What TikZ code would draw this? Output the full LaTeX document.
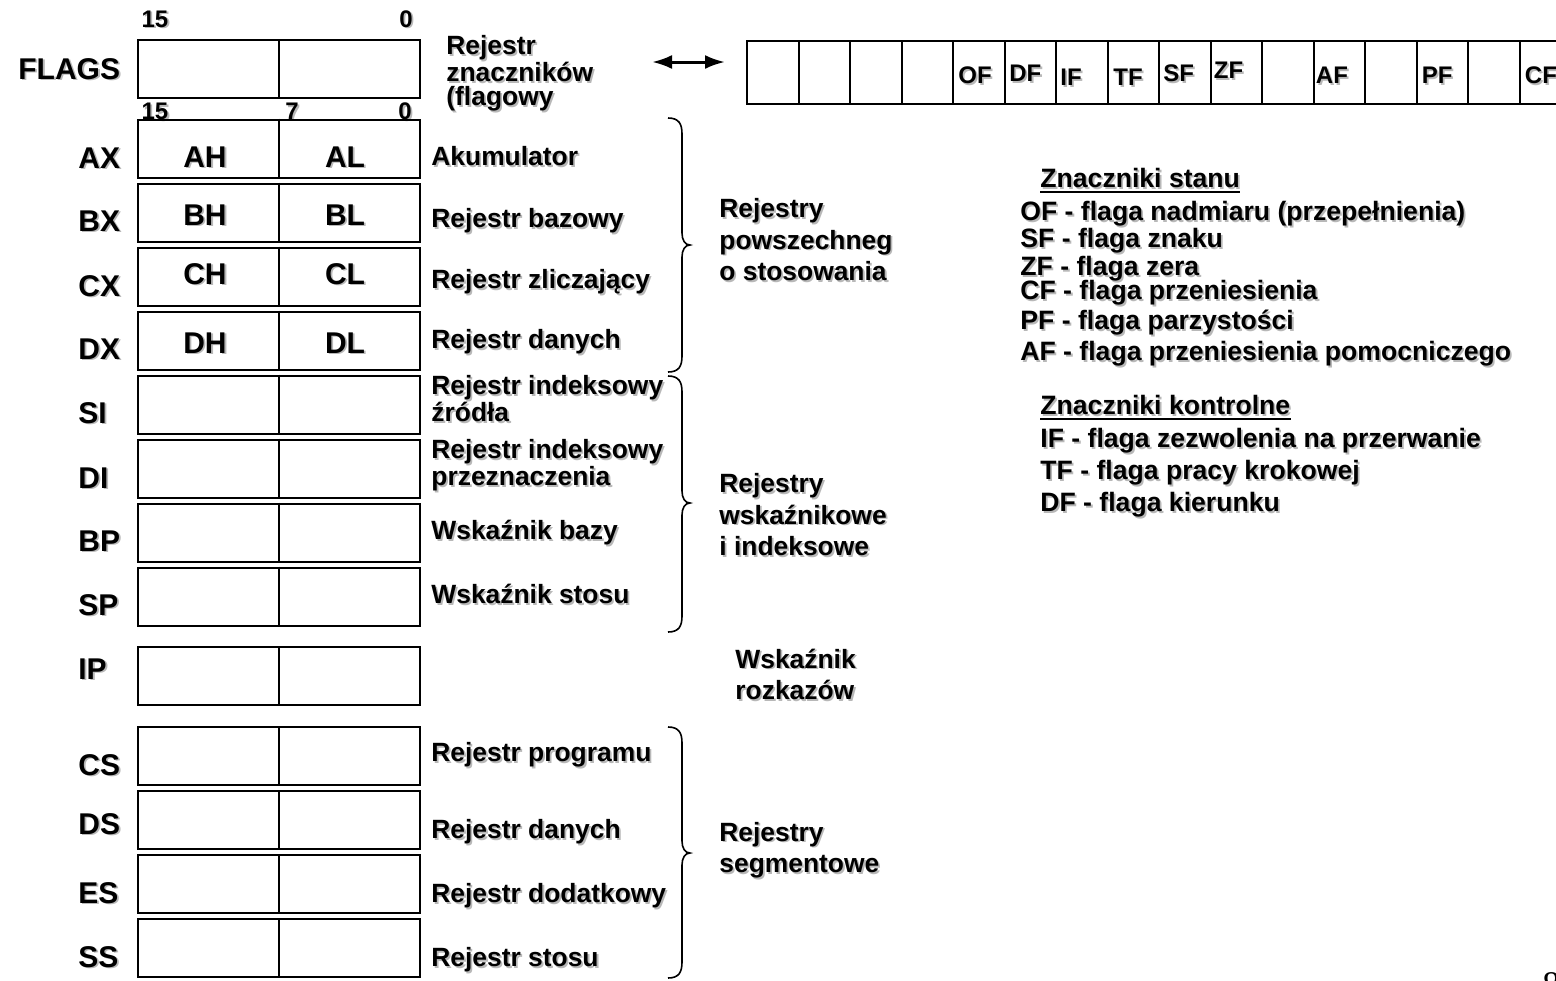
\documentclass[tikz,border=0pt]{standalone}
\usepackage{fontspec}
\setmainfont{Liberation Sans}
\newfontfamily\serifpage{Liberation Serif}
\usetikzlibrary{arrows.meta}
\definecolor{shade}{gray}{0.72}
\newcommand\sh[1]{\leavevmode\rlap{\hspace{0.9pt}\raisebox{-0.9pt}[0pt][0pt]{\textcolor{shade}{#1}}}#1}
\newcommand\rbr[3]{%
  \draw[bracestyle] (668,#1) .. controls (679,#1) and (682,{#1+6}) .. (682,{#1+16})
    -- (682,{#2-12}) .. controls (682,{#2-5}) and (685,#2) .. (690,#2)
    .. controls (685,#2) and (682,{#2+5}) .. (682,{#2+12})
    -- (682,{#3-16}) .. controls (682,{#3-6}) and (679,#3) .. (668,#3);}
\tikzset{
  regbox/.style={draw, line width=1pt, minimum width=141pt, minimum height=29pt, inner sep=0pt},
  big/.style={font=\fontsize{15}{15}\selectfont\bfseries, inner sep=0pt, anchor=base west},
  bigc/.style={font=\fontsize{15}{15}\selectfont\bfseries, inner sep=0pt, anchor=base},
  desc/.style={font=\fontsize{13.2}{12}\selectfont\bfseries, inner sep=0pt, anchor=base west, align=left},
  grp/.style={font=\fontsize{13.2}{15.75}\selectfont\bfseries, inner sep=0pt, anchor=base west, align=left},
  bit/.style={font=\fontsize{12}{12}\selectfont\bfseries, inner sep=0pt, anchor=base},
  flg/.style={font=\fontsize{12}{12}\selectfont\bfseries, inner sep=0pt, anchor=base west},
  leg/.style={font=\fontsize{13.3}{13.3}\selectfont\bfseries, inner sep=0pt, anchor=base west},
  bracestyle/.style={line width=0.8pt},
  cell/.style={draw, line width=1pt, minimum width=25.75pt, minimum height=31.5pt, inner sep=0pt, anchor=north west},
  divider/.style={line width=1pt},
  ulline/.style={line width=1pt}
}
\begin{document}
\begin{tikzpicture}[x=0.5pt,y=-0.5pt]
\useasboundingbox (0,0) rectangle (1556,980);
% FLAGS register
\node[regbox] (flags) at (279,69) {};
\draw[divider] (flags.north) -- (flags.south);
\node[big] (nflags) at (18,79) {\sh{FLAGS}};
\node[bit] (b15a) at (155,27) {\sh{15}};
\node[bit] (b0a) at (406,27) {\sh{0}};
\node[desc] (rz) at (446,105.5) {\sh{Rejestr}\\\sh{znaczników}\\\sh{(flagowy}};
% bit numbers of 16-bit registers
\node[bit] (b15b) at (155,119.5) {\sh{15}};
\node[bit] (b7b) at (292,119.5) {\sh{7}};
\node[bit] (b0b) at (405,119.5) {\sh{0}};
% flag register
\foreach \i in {0,...,15} \node[cell] (f\i) at ({746+51.5*\i},40) {};
\foreach \n/\i/\dx/\yb in {OF/4/6/83.6, DF/5/5.5/81.6, IF/6/5/85.6, TF/7/6.5/85.6, SF/8/5/81.6, ZF/9/4/78.6, AF/11/3/83.6, PF/13/6/83.6, CF/15/6/83.6}
  \node[flg] (t\n) at ({746+51.5*\i+\dx},\yb) {\sh{\n}};
\coordinate (arl) at (652,62);
\coordinate (arr) at (725,62);
\draw[line width=1.5pt, {Latex[length=10pt,width=7pt]}-{Latex[length=10pt,width=7pt]}] (arl) -- (arr);
% registers
\foreach \n/\t/\y/\ly in {ax/AX/148.5/168, bx/BX/212.5/231, cx/CX/276.5/296, dx/DX/340.5/359,
  si/SI/404.5/423, di/DI/468.5/488, bp/BP/532.5/551, sp/SP/596.5/615, ip/IP/676/679,
  cs/CS/756/775, ds/DS/820/834, es/ES/884/903, ss/SS/948/967}{
  \node[regbox] (\n) at (279,\y) {};
  \draw[divider] (\n.north) -- (\n.south);
  \node[big] (n\n) at (78,\ly) {\sh{\t}};
}
\foreach \h/\l/\y in {AH/AL/167, BH/BL/225, CH/CL/284, DH/DL/353}{
  \node[bigc] (i\h) at (205,\y) {\sh{\h}};
  \node[bigc] (i\l) at (345,\y) {\sh{\l}};
}
% descriptions
\node[desc] (dax) at (431,165.5) {\sh{Akumulator}};
\node[desc] (dbx) at (431,227.5) {\sh{Rejestr bazowy}};
\node[desc] (dcx) at (431,288.5) {\sh{Rejestr zliczający}};
\node[desc] (ddx) at (431,348.5) {\sh{Rejestr danych}};
\node[desc] (dsi) at (431,421.5) {\sh{Rejestr indeksowy}\\\sh{źródła}};
\node[desc] (ddi) at (431,485.5) {\sh{Rejestr indeksowy}\\\sh{przeznaczenia}};
\node[desc] (dbp) at (431,539.5) {\sh{Wskaźnik bazy}};
\node[desc] (dsp) at (431,603.5) {\sh{Wskaźnik stosu}};
\node[desc] (dcs) at (431,761.5) {\sh{Rejestr programu}};
\node[desc] (dds) at (431,838.5) {\sh{Rejestr danych}};
\node[desc] (des) at (431,902.5) {\sh{Rejestr dodatkowy}};
\node[desc] (dss) at (431,966.5) {\sh{Rejestr stosu}};
% braces and group labels
\rbr{118}{245}{372}
\rbr{376}{503}{632}
\rbr{727}{853}{978}
\node[grp] (g1) at (719,280.5) {\sh{Rejestry}\\\sh{powszechneg}\\\sh{o stosowania}};
\node[grp] (g2) at (719,555.5) {\sh{Rejestry}\\\sh{wskaźnikowe}\\\sh{i indeksowe}};
\node[grp] (g3) at (735,699.5) {\sh{Wskaźnik}\\\sh{rozkazów}};
\node[grp] (g4) at (719,872.5) {\sh{Rejestry}\\\sh{segmentowe}};
% legend
\node[leg] (zs) at (1040,187.5) {\sh{Znaczniki stanu}};
\draw[ulline] ([yshift=-2pt]zs.base west) -- ([yshift=-2pt]zs.base east);
\node[leg] (lof) at (1020,220.5) {\sh{OF - flaga nadmiaru (przepełnienia)}};
\node[leg] (lsf) at (1020,247.5) {\sh{SF - flaga znaku}};
\node[leg] (lzf) at (1020,275.5) {\sh{ZF - flaga zera}};
\node[leg] (lcf) at (1020,299.5) {\sh{CF - flaga przeniesienia}};
\node[leg] (lpf) at (1020,329.5) {\sh{PF - flaga parzystości}};
\node[leg] (laf) at (1020,360.5) {\sh{AF - flaga przeniesienia pomocniczego}};
\node[leg] (zk) at (1040,414.5) {\sh{Znaczniki kontrolne}};
\draw[ulline] ([yshift=-2pt]zk.base west) -- ([yshift=-2pt]zk.base east);
\node[leg] (lif) at (1040,447.5) {\sh{IF - flaga zezwolenia na przerwanie}};
\node[leg] (ltf) at (1040,479.5) {\sh{TF - flaga pracy krokowej}};
\node[leg] (ldf) at (1040,511.5) {\sh{DF - flaga kierunku}};
% page number
\node[font=\serifpage\fontsize{18}{18}\selectfont, anchor=base west, inner sep=0pt] (pg) at (1542,996) {8};
\end{tikzpicture}
\end{document}
